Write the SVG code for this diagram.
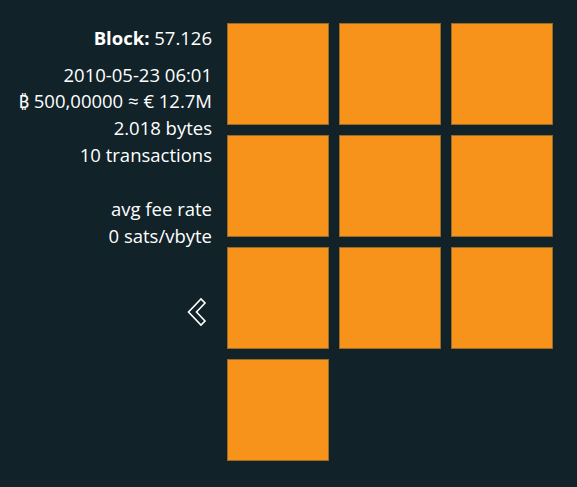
<svg xmlns="http://www.w3.org/2000/svg" width="577" height="487" viewBox="0 0 577 487">
<style>
.t{font-family:"Open Sans","Noto Sans",sans-serif;font-size:18.5px;fill:#ffffff;text-anchor:end}
.b{font-weight:bold}
.sq{fill:#f7931a;stroke:#9a6a2a;stroke-width:1}
</style>
<rect width="577" height="487" fill="#112229"/>
<g id="info">
<text class="t" x="212" y="45"><tspan class="b">Block:</tspan> 57.126</text>
<text class="t" x="212" y="82">2010-05-23 06:01</text>
<text class="t" x="212" y="108">₿ 500,00000 ≈ € 12.7M</text>
<text class="t" x="212" y="135">2.018 bytes</text>
<text class="t" x="212" y="162">10 transactions</text>
<text class="t" x="212" y="216">avg fee rate</text>
<text class="t" x="212" y="243">0 sats/vbyte</text>
</g>
<g id="back">
<polygon points="188.5,312 201,299 205,303 196.5,312 205,321 201,325" fill="none" stroke="#ffffff" stroke-width="1.6" stroke-linejoin="miter"/>
</g>
<g id="tx1"><rect class="sq" x="227.5" y="23.5" width="101" height="101"/></g>
<g id="tx2"><rect class="sq" x="339.5" y="23.5" width="101" height="101"/></g>
<g id="tx3"><rect class="sq" x="451.5" y="23.5" width="101" height="101"/></g>
<g id="tx4"><rect class="sq" x="227.5" y="135.5" width="101" height="101"/></g>
<g id="tx5"><rect class="sq" x="339.5" y="135.5" width="101" height="101"/></g>
<g id="tx6"><rect class="sq" x="451.5" y="135.5" width="101" height="101"/></g>
<g id="tx7"><rect class="sq" x="227.5" y="247.5" width="101" height="101"/></g>
<g id="tx8"><rect class="sq" x="339.5" y="247.5" width="101" height="101"/></g>
<g id="tx9"><rect class="sq" x="451.5" y="247.5" width="101" height="101"/></g>
<g id="tx10"><rect class="sq" x="227.5" y="359.5" width="101" height="101"/></g>
<g id="connectors"></g>
</svg>
